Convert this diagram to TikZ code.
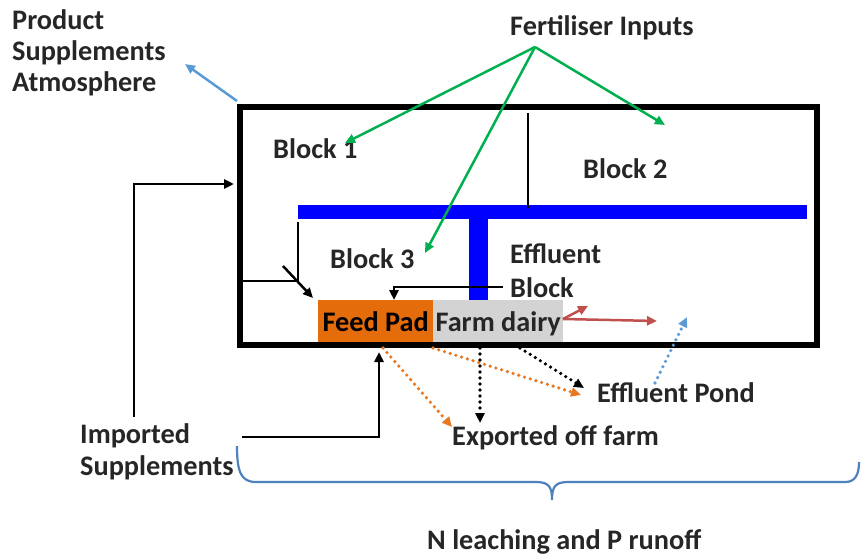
\documentclass[tikz,border=0pt]{standalone}
\usepackage{fontspec}
\setmainfont{Carlito}
\usetikzlibrary{arrows.meta}

\definecolor{txt}{HTML}{262626}
\definecolor{fertgreen}{HTML}{00B050}
\definecolor{pipeblue}{HTML}{0000FF}
\definecolor{padorange}{HTML}{E46C0A}
\definecolor{dairygrey}{HTML}{D3D3D3}
\definecolor{lossred}{HTML}{C0504D}
\definecolor{airblue}{HTML}{5B9BD5}
\definecolor{braceblue}{HTML}{4F81BD}
\definecolor{dotorange}{HTML}{E87722}

\tikzset{
  lbl/.style={anchor=base west, inner sep=0pt, text=txt},
  tip/.style={-{Triangle[length=10pt,width=9pt]}},
  flow/.style={line width=2.5pt, black, tip},
  fert/.style={line width=2.5pt, fertgreen, tip},
  loss/.style={line width=2.5pt, lossred, tip},
  dots/.style={line width=3.6pt, line cap=round, dash pattern=on 0pt off 6pt, tip},
  padbox/.style={draw=none, inner sep=0pt, minimum height=45pt,
                 text height=23pt, text depth=5pt, anchor=south west},
}

\begin{document}
\begin{tikzpicture}[x=1pt, y=-1pt, font=\fontsize{28.3}{31}\selectfont\bfseries]
\useasboundingbox (0,0) rectangle (861,559);

% feed pad and dairy shed sitting on the boundary
\node[padbox, fill=padorange, minimum width=115pt, text=black] (pad) at (318,345) {Feed Pad};
\node[padbox, fill=dairygrey, minimum width=130pt, text=txt] (dairy) at (433,345) {Farm dairy};

% farm boundary
\draw[line width=5.5pt] (240,107) rectangle (817,345);
\coordinate (farmNW) at (237,101);

% effluent pipe network
\fill[pipeblue] (298,205) rectangle (807,219);
\fill[pipeblue] (469,219) rectangle (488,300);
\draw[line width=2.5pt] (528,113) -- (528,208);
\draw[line width=2.5pt] (298,222) -- (298,281) -- (243,281);

% labels
\node[lbl] (prod) at (12,30) {Product};
\node[lbl] (supp) at (12,61) {Supplements};
\node[lbl] (atmo) at (12,92) {Atmosphere};
\node[lbl] (fertin) at (510,36) {Fertiliser Inputs};
\node[lbl] (b1) at (273,158) {Block 1};
\node[lbl] (b2) at (583,178) {Block 2};
\node[lbl] (b3) at (330,268) {Block 3};
\node[lbl] (eff1) at (510,263) {Effluent};
\node[lbl] (eff2) at (510,297) {Block};
\node[lbl] (pond) at (597,402) {Effluent Pond};
\node[lbl] (export) at (452,445) {Exported off farm};
\node[lbl] (imp1) at (80,443) {Imported};
\node[lbl] (imp2) at (80,475) {Supplements};
\node[lbl] (leach) at (427,549) {N leaching and P runoff};

% connector end points
\coordinate (fertapex) at (535,47);
\coordinate (b1in) at (345,143);
\coordinate (b2in) at (665,125);
\coordinate (b3in) at (425,253);
\coordinate (prodin) at (185,64);
\coordinate (effend) at (503,287);
\coordinate (padtop) at (394,300);
\coordinate (diagS) at (283,266);
\coordinate (diagE) at (313,298);
\coordinate (impS) at (242,437);
\coordinate (impE) at (379,352);
\coordinate (impL) at (134,417);
\coordinate (impLE) at (234,184);
\coordinate (dairyR) at (563,319);
\coordinate (redA) at (588,306);
\coordinate (redB) at (657,321);
\coordinate (pondS) at (655,383);
\coordinate (pondE) at (687,317);
\coordinate (padB) at (383,348);
\coordinate (padBR) at (433,348);
\coordinate (dairyB1) at (480,348);
\coordinate (dairyB2) at (520,348);
\coordinate (expIn) at (452,427);
\coordinate (expIn2) at (480,423);
\coordinate (pondIn1) at (584,388);
\coordinate (pondIn2) at (581,395);

% fertiliser
\draw[fert] (fertapex) -- (b1in);
\draw[fert] (fertapex) -- (b2in);
\draw[fert] (fertapex) -- (b3in);

% to atmosphere
\draw[line width=2.5pt, airblue, tip] (farmNW) -- (prodin);

% imported supplements
\draw[flow] (impL) |- (impLE);
\draw[flow] (impS) -| (impE);
\draw[flow] (effend) -| (padtop);
\draw[flow] (diagS) -- (diagE);

% losses from the dairy
\draw[loss] (dairyR) -- (redA);
\draw[loss] (dairyR) -- (redB);
\draw[dots, airblue] (pondS) -- (pondE);

% effluent flows
\draw[dots, dotorange] (padB) -- (expIn);
\draw[dots, dotorange] (padBR) -- (pondIn2);
\draw[dots, black] (dairyB1) -- (expIn2);
\draw[dots, black] (dairyB2) -- (pondIn1);

% brace over the whole farm
\draw[braceblue, line width=2.2pt]
  (237,446) .. controls (237,472) and (241,482) .. (256,482) -- (536,482)
  .. controls (549,482) and (552,487) .. (552,500)
  .. controls (552,487) and (555,482) .. (568,482) -- (845,482)
  .. controls (855,482) and (859,475) .. (859,462);
\end{tikzpicture}
\end{document}
